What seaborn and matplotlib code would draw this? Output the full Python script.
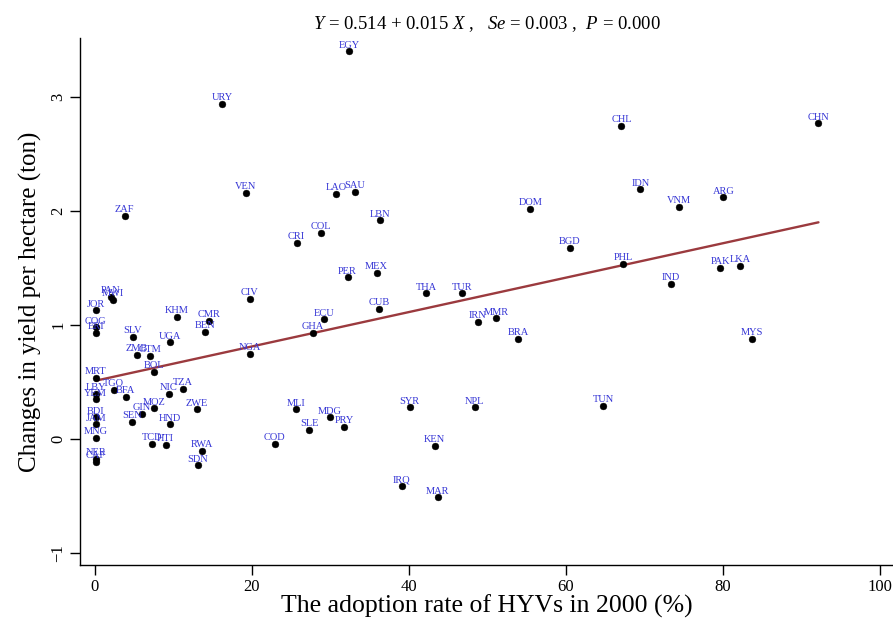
import numpy as np
import pandas as pd
import matplotlib
matplotlib.use("Agg")
import matplotlib.pyplot as plt
import seaborn as sns

countries = ["EGY", "URY", "CHL", "CHN", "ZAF", "VEN", "LAO", "SAU", "LBN", "COL",
             "CRI", "IDN", "DOM", "VNM", "ARG", "BGD", "PHL", "PAK", "LKA", "IND",
             "MYS", "TUR", "IRN", "MMR", "BRA", "THA", "PER", "MEX", "CUB", "ECU",
             "GHA", "CIV", "NGA", "MLI", "MDG", "SLE", "PRY", "COD", "SYR", "NPL",
             "KEN", "IRQ", "MAR", "TUN", "PAN", "MWI", "JOR", "COG", "ERI", "SLV",
             "KHM", "CMR", "BEN", "UGA", "ZMB", "GTM", "BOL", "MRT", "TGO", "LBY",
             "YEM", "BFA", "NIC", "TZA", "MOZ", "GIN", "SEN", "ZWE", "HND", "BDI",
             "JAM", "MNG", "TCD", "HTI", "RWA", "SDN", "NER", "CAF"]
adoption = [32.4, 16.2, 67.1, 92.2, 3.8, 19.2, 30.7, 33.1, 36.3, 28.8,
            25.7, 69.5, 55.5, 74.4, 80.1, 60.5, 67.3, 79.7, 82.2, 73.4,
            83.7, 46.8, 48.8, 51.1, 53.9, 42.2, 32.2, 35.9, 36.2, 29.2,
            27.8, 19.7, 19.7, 25.6, 29.9, 27.3, 31.8, 22.9, 40.1, 48.4,
            43.3, 39.1, 43.7, 64.8, 2.0, 2.3, 0.1, 0.1, 0.1, 4.8,
            10.4, 14.5, 14.0, 9.6, 5.3, 7.0, 7.5, 0.1, 2.4, 0.1,
            0.1, 3.9, 9.4, 11.2, 7.5, 6.0, 4.7, 13.0, 9.6, 0.1,
            0.1, 0.1, 7.3, 9.0, 13.6, 13.1, 0.1, 0.1]
yield_change = [3.40, 2.94, 2.75, 2.77, 1.96, 2.16, 2.15, 2.17, 1.92, 1.81,
                1.72, 2.19, 2.02, 2.04, 2.12, 1.68, 1.54, 1.50, 1.52, 1.36,
                0.88, 1.28, 1.03, 1.06, 0.88, 1.28, 1.42, 1.46, 1.14, 1.05,
                0.93, 1.23, 0.75, 0.26, 0.19, 0.08, 0.11, -0.04, 0.28, 0.28,
                -0.06, -0.41, -0.51, 0.29, 1.25, 1.22, 1.13, 0.98, 0.93, 0.90,
                1.07, 1.04, 0.94, 0.85, 0.74, 0.73, 0.59, 0.54, 0.43, 0.40,
                0.35, 0.37, 0.40, 0.44, 0.27, 0.22, 0.15, 0.26, 0.13, 0.19,
                0.13, 0.01, -0.04, -0.05, -0.10, -0.23, -0.17, -0.20]

title_text = r"$\mathit{Y}$ = 0.514 + 0.015 $\mathit{X}$ ,   $\mathit{Se}$ = 0.003 ,  $\mathit{P}$ = 0.000"
xlabel = "The adoption rate of HYVs in 2000 (%)"
ylabel = "Changes in yield per hectare (ton)"
xticks = [0, 20, 40, 60, 80, 100]
yticks = [-1, 0, 1, 2, 3]

df = pd.DataFrame({"country": countries, "x": adoption, "y": yield_change})

sns.set_theme(style="white")
plt.rcParams["font.family"] = ["Liberation Serif", "DejaVu Serif"]
plt.rcParams["mathtext.fontset"] = "custom"
plt.rcParams["mathtext.rm"] = "Liberation Serif"
plt.rcParams["mathtext.it"] = "Liberation Serif:italic"
plt.rcParams["text.color"] = "black"
plt.rcParams["axes.labelcolor"] = "black"

fig = plt.figure(figsize=(8.93, 6.40), dpi=100)
ax = fig.add_axes([0.0896, 0.117, 0.9104, 0.824])

sns.regplot(data=df, x="x", y="y", scatter=False, ci=None, ax=ax,
            line_kws=dict(color="#9b3a3e", lw=1.7), truncate=True)
sns.scatterplot(data=df, x="x", y="y", ax=ax, color="black", s=24,
                edgecolor="black", linewidth=0.3, zorder=3)
for c, xv, yv in zip(df["country"], df["x"], df["y"]):
    ax.annotate(c, (xv, yv), xytext=(0, 1.2), textcoords="offset points",
                ha="center", va="bottom", fontsize=7.5, color="#3535d5", zorder=4)

ax.set_xlim(-1.9, 101.7)
ax.set_ylim(-1.105, 3.52)
ax.set_xticks(xticks)
ax.set_yticks(yticks)
ax.set_yticklabels([str(t) if t >= 0 else "\u22121" for t in yticks],
                   rotation=90, va="center")
ax.tick_params(axis="both", direction="out", length=7, width=1, colors="black",
               labelsize=12, left=True, bottom=True)
ax.tick_params(axis="x", pad=3)
ax.tick_params(axis="y", pad=3)
for s in ["top", "right"]:
    ax.spines[s].set_visible(False)
for s in ["left", "bottom"]:
    ax.spines[s].set_color("black")
    ax.spines[s].set_linewidth(1.0)
ax.set_xlabel(xlabel, fontsize=18.5, labelpad=0)
ax.set_ylabel(ylabel, fontsize=18, labelpad=6)
ax.set_title(title_text, fontsize=13.5, pad=6, x=0.5, color="black")

fig.savefig("out.png", dpi=100)
